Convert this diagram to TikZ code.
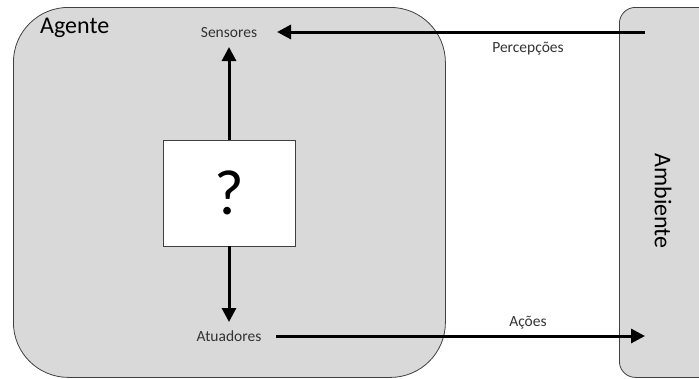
\documentclass[tikz,border=0pt]{standalone}
\usepackage{fontspec}
\setmainfont{Carlito}
\usetikzlibrary{arrows.meta}
\definecolor{boxgray}{HTML}{D9D9D9}
\definecolor{edgegray}{HTML}{404040}
\begin{document}
\begin{tikzpicture}[x=1pt,y=-1pt,
  panel/.style={draw=edgegray,line width=0.8pt,fill=boxgray,inner sep=0pt},
  lbl/.style={font=\fontsize{15.5}{18}\selectfont,text=black!80,inner sep=0pt,anchor=base},
  title/.style={font=\fontsize{24}{28}\selectfont,inner sep=0pt},
  flow/.style={line width=3pt,-{Triangle[length=14pt,width=14pt]}},
]
\useasboundingbox (0,0) rectangle (699,378);
% agent and environment panels
\node[panel,rounded corners=55pt,minimum width=432pt,minimum height=370pt,anchor=north west] (agente) at (13,7) {};
\node[panel,rounded corners=16pt,minimum width=120pt,minimum height=370pt,anchor=north west] (ambiente) at (619,7) {};
\node[title,anchor=base west] (agtitle) at (40,33) {Agente};
\node[title,rotate=-90] (amtitle) at (663,201) {Ambiente};
% agent internals
\node[draw=edgegray,line width=0.8pt,fill=white,minimum width=132pt,minimum height=106pt,inner sep=0pt] (q) at (229,193) {\fontsize{64}{70}\selectfont ?};
\node[lbl] (sens) at (229,37) {Sensores};
\node[lbl] (atu) at (229,341) {Atuadores};
\coordinate (pin) at (645,32);
\coordinate (aout) at (645,336);
\node[lbl] (perc) at (528,52) {Percepções};
\node[lbl] (acoes) at (528,326) {Ações};
% flows
\draw[flow] (q.north) -- (229,47);
\draw[flow] (q.south) -- (229,322);
\draw[flow] (pin) -- (277,32);
\draw[flow] (276,336) -- (aout);
\end{tikzpicture}
\end{document}
